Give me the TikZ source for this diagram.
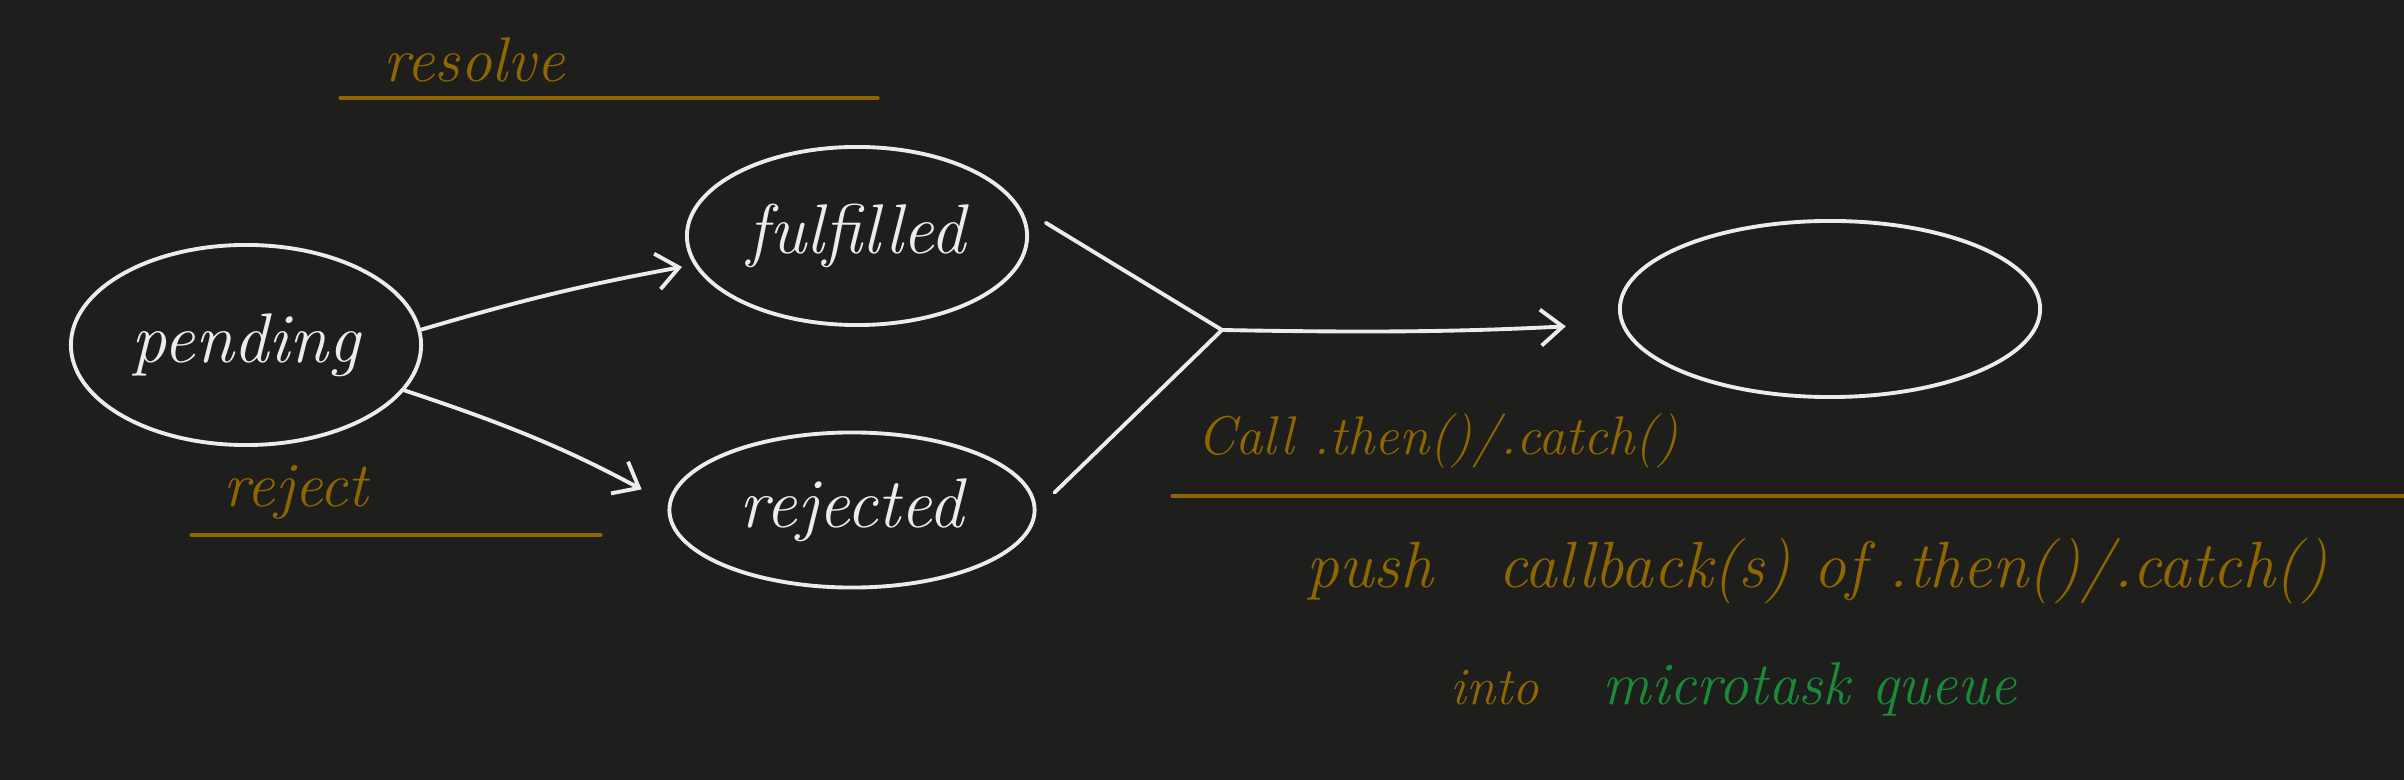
\documentclass[tikz,border=0pt]{standalone}
\usetikzlibrary{shapes.geometric,arrows.meta}
\definecolor{board}{HTML}{1E1E1C}
\definecolor{chalk}{HTML}{ECECEC}
\definecolor{ink}{HTML}{8F6600}
\definecolor{leaf}{HTML}{1A8A3A}

\begin{document}
\begin{tikzpicture}[x=0.01cm, y=-0.01cm, line cap=round, state/.style={ellipse, draw=chalk, line width=1.1pt, text=chalk, inner sep=0pt, font=\fontsize{20}{24}\selectfont\itshape}, link/.style={draw=chalk, line width=1.1pt}, arr/.style={link, -{Straight Barb[length=0.22cm, width=0.36cm, line width=1.1pt]}}, note/.style={text=ink, anchor=base, inner sep=0pt, font=\fontsize{18}{22}\selectfont\itshape}, rule/.style={draw=ink, line width=0.9pt}]
  \useasboundingbox (0,0) rectangle (2404,780);
  \fill[board] (0,0) rectangle (2404,780);

  \node[state, minimum width=3.5cm, minimum height=2cm] (pend) at (246,345) {pending};
  \node[state, minimum width=3.4cm, minimum height=1.78cm] (ful) at (857,236) {fulfilled};
  \node[state, minimum width=3.65cm, minimum height=1.55cm] (rej) at (852,510) {rejected};
  \node[state, minimum width=4.2cm, minimum height=1.76cm] (next) at (1830,309) {};
  \coordinate (junc) at (1222,330);

  \draw[arr, shorten >=0.12cm] (pend.5) to[bend left=3] (ful.190);
  \draw[arr, shorten >=0.3cm] (pend.-16) to[bend left=5] (rej.178);
  \draw[link, shorten <=0.3cm] (ful.10) -- (junc);
  \draw[link, shorten <=0.25cm] (rej.east) -- (junc);
  \draw[arr, shorten >=0.55cm] (junc) to[bend right=2] (next);

  \node[note] (resLbl) at (474,82) {resolve};
  \draw[rule] (340,98) -- (878,98);
  \node[note] (rejLbl) at (296,507) {reject};
  \draw[rule] (191,535) -- (601,535);
  \node[note, font=\fontsize{15.5}{19}\selectfont\itshape] (callLbl) at (1438,455) {Call .then()/.catch()};
  \draw[rule] (1172,496) -- (2404,496);
  \node[note, font=\fontsize{18.6}{22}\selectfont\itshape] (pushLbl) at (1817,588) {push\quad callback(s) of .then()/.catch()};
  \node[note, anchor=base west, font=\fontsize{15}{19}\selectfont\itshape] (intoLbl) at (1450,705) {into};
  \node[note, anchor=base west, text=leaf, font=\fontsize{17.2}{21}\selectfont\itshape] (queueLbl) at (1602,705) {microtask queue};
\end{tikzpicture}
\end{document}
